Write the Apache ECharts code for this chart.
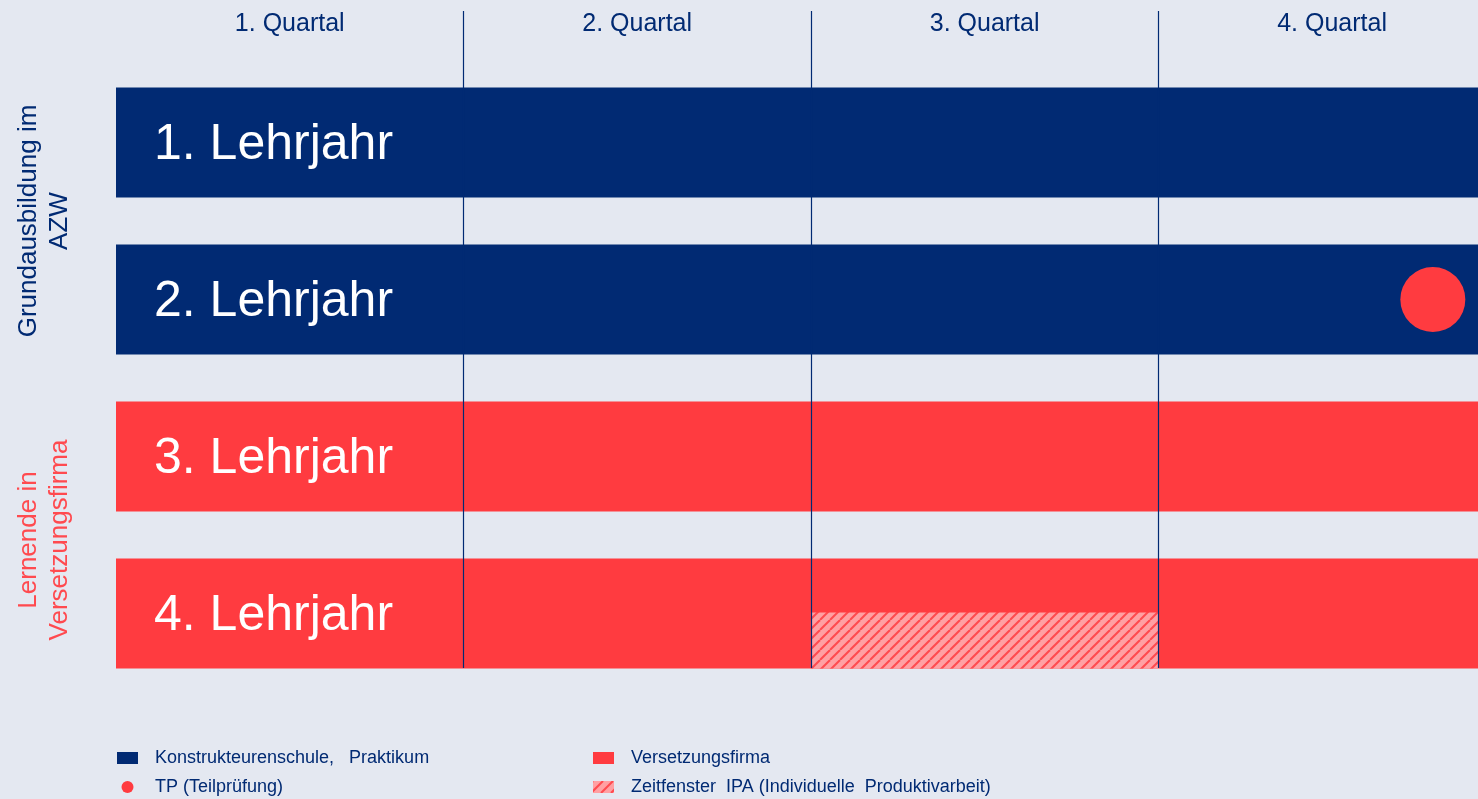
<!DOCTYPE html>
<html>
<head>
<meta charset="utf-8">
<title>Ausbildungsplan</title>
<script src="https://cdn.jsdelivr.net/npm/echarts@6/dist/echarts.min.js"></script>
<style>
  html, body { margin: 0; padding: 0; background: #e4e8f1; }
  #chart { width: 1478px; height: 799px; }
</style>
</head>
<body>
<div id="chart"></div>
<script>
// Daten
const rowLabels = ['1. Lehrjahr', '2. Lehrjahr', '3. Lehrjahr', '4. Lehrjahr']
const quarters = ['1. Quartal', '2. Quartal', '3. Quartal', '4. Quartal']
const schoolRows = [4, 4, '-', '-']     // Konstrukteurenschule, Praktikum (Quartale)
const firmRows = ['-', '-', 4, 4]       // Versetzungsfirma
const ipaWindow = [[2, 3, 3]]           // von Quartal, bis Quartal, Zeile
const tpPoints = [[3.79, 1]]            // Teilprüfung: Quartal, Zeile
const quarterBounds = [1, 2, 3]

// sichtbarer Ausschnitt: das 4. Quartal ist rechts abgeschnitten
const X_MAX = 3.92

const NAVY = '#012a73'
const RED = '#ff3b40'
const BAR_H = 110

// Schraffur fuer IPA
function makeHatch(w, h) {
  const c = document.createElement('canvas')
  c.width = w; c.height = h
  const ctx = c.getContext('2d')
  ctx.fillStyle = '#ffa0a3'
  ctx.fillRect(0, 0, w, h)
  ctx.strokeStyle = '#ff4a4f'
  ctx.lineWidth = 2
  for (let x = -h; x < w + h; x += 10) {
    ctx.beginPath()
    ctx.moveTo(x, h)
    ctx.lineTo(x + h, 0)
    ctx.stroke()
  }
  return c
}
const hatchTile = makeHatch(10, 10)
const hatchIcon = makeHatch(21, 12).toDataURL()

const chart = echarts.init(document.getElementById('chart'))

const legendText = { color: NAVY, fontSize: 18, padding: [0, 0, 0, 12] }

const option = {
  backgroundColor: '#e4e8f1',
  textStyle: { fontFamily: 'Liberation Sans, Arial, sans-serif' },
  grid: [
    { left: 116, right: 0, top: 64, bottom: 107 },
    { left: 116, right: 0, top: 11, bottom: 131 }
  ],
  xAxis: [
    { type: 'value', gridIndex: 0, min: 0, max: X_MAX, show: false },
    {
      type: 'value', gridIndex: 0, position: 'top', min: 0, max: X_MAX, interval: 0.5,
      axisLine: { show: false }, axisTick: { show: false }, splitLine: { show: false },
      axisLabel: {
        color: NAVY, fontSize: 25, margin: 27, showMaxLabel: false,
        formatter: v => (Math.round(v * 2) % 2 === 1 ? quarters[Math.floor(v)] : '')
      }
    },
    { type: 'value', gridIndex: 1, min: 0, max: X_MAX, show: false }
  ],
  yAxis: [
    { type: 'category', gridIndex: 0, data: rowLabels, inverse: true, show: false },
    { type: 'value', gridIndex: 1, min: 0, max: 1, show: false }
  ],
  legend: [
    {
      left: 117, top: 749, orient: 'vertical', padding: 0, itemWidth: 21, itemHeight: 12, itemGap: 11,
      textStyle: legendText,
      data: [
        { name: 'Konstrukteurenschule,   Praktikum', icon: 'rect' },
        { name: 'TP (Teilprüfung)', icon: 'circle' }
      ]
    },
    {
      left: 593, top: 749, orient: 'vertical', padding: 0, itemWidth: 21, itemHeight: 12, itemGap: 11,
      textStyle: legendText,
      data: [
        { name: 'Versetzungsfirma', icon: 'rect' },
        { name: 'Zeitfenster  IPA (Individuelle  Produktivarbeit)', icon: 'image://' + hatchIcon }
      ]
    }
  ],
  graphic: [
    {
      type: 'text', x: 44, y: 221, rotation: Math.PI / 2,
      style: {
        text: 'Grundausbildung im\nAZW', fill: NAVY, fontSize: 26, lineHeight: 31,
        align: 'center', verticalAlign: 'middle', fontFamily: 'Liberation Sans'
      }
    },
    {
      type: 'text', x: 44, y: 540, rotation: Math.PI / 2,
      style: {
        text: 'Lernende in\nVersetzungsfirma', fill: '#ff4a4f', fontSize: 26, lineHeight: 31,
        align: 'center', verticalAlign: 'middle', fontFamily: 'Liberation Sans'
      }
    }
  ],
  series: [
    {
      name: 'Konstrukteurenschule,   Praktikum', type: 'bar', stack: 'rows', z: 2,
      xAxisIndex: 0, yAxisIndex: 0, barWidth: BAR_H, data: schoolRows,
      itemStyle: { color: NAVY },
      label: { show: true, position: 'insideLeft', distance: 38, offset: [0, 3], formatter: '{b}', color: '#fff', fontSize: 50 },
      silent: true
    },
    {
      name: 'Versetzungsfirma', type: 'bar', stack: 'rows', z: 2,
      xAxisIndex: 0, yAxisIndex: 0, barWidth: BAR_H, data: firmRows,
      itemStyle: { color: RED },
      label: { show: true, position: 'insideLeft', distance: 38, offset: [0, 3], formatter: '{b}', color: '#fff', fontSize: 50 },
      silent: true
    },
    {
      name: 'Zeitfenster  IPA (Individuelle  Produktivarbeit)', type: 'custom', z: 5,
      xAxisIndex: 0, yAxisIndex: 0, data: ipaWindow,
      itemStyle: { color: '#ffa0a3' },
      renderItem: function (params, api) {
        const p0 = api.coord([api.value(0), api.value(2)])
        const p1 = api.coord([api.value(1), api.value(2)])
        return {
          type: 'rect',
          shape: { x: p0[0], y: p0[1] - 1, width: p1[0] - p0[0], height: BAR_H / 2 + 1 },
          style: { fill: { image: hatchTile, repeat: 'repeat' } }
        }
      }
    },
    {
      name: 'TP (Teilprüfung)', type: 'scatter', z: 6,
      xAxisIndex: 0, yAxisIndex: 0, data: tpPoints, symbolSize: 65,
      itemStyle: { color: RED, opacity: 1 }
    },
    {
      name: 'Quartalsgrenzen', type: 'custom', z: 8, silent: true,
      xAxisIndex: 2, yAxisIndex: 1, data: quarterBounds.map(q => [q]),
      renderItem: function (params, api) {
        const top = api.coord([api.value(0), 1])
        const bottom = api.coord([api.value(0), 0])
        return {
          type: 'line',
          shape: { x1: Math.round(top[0]) + 0.5, y1: top[1], x2: Math.round(bottom[0]) + 0.5, y2: bottom[1] },
          style: { stroke: NAVY, lineWidth: 1.2 }
        }
      }
    }
  ]
}

chart.setOption(option)
</script>
</body>
</html>
